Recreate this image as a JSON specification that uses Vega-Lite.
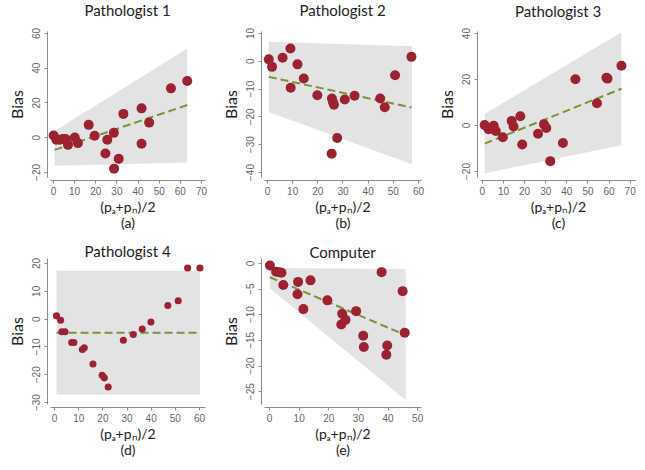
{
  "$schema": "https://vega.github.io/schema/vega-lite/v6.json",
  "padding": {"left": 9, "top": 4, "right": 0, "bottom": 0},
  "background": "white",
  "columns": 3,
  "bounds": "flush",
  "spacing": {"row": 81, "column": 59},
  "datasets": {
    "pts": [
      {"p": 1, "x": 0.3, "y": 1.0}, {"p": 1, "x": 1.6, "y": -1.5}, {"p": 1, "x": 3.2, "y": -1.5}, {"p": 1, "x": 4.7, "y": -1.0}, {"p": 1, "x": 6.0, "y": -1.0}, {"p": 1, "x": 7.1, "y": -4.4}, {"p": 1, "x": 10.3, "y": -0.2}, {"p": 1, "x": 11.8, "y": -3.4}, {"p": 1, "x": 16.9, "y": 7.1}, {"p": 1, "x": 19.7, "y": 0.8}, {"p": 1, "x": 25.7, "y": -1.5}, {"p": 1, "x": 24.8, "y": -9.4}, {"p": 1, "x": 28.8, "y": 2.5}, {"p": 1, "x": 28.9, "y": -18.1}, {"p": 1, "x": 31.1, "y": -12.4}, {"p": 1, "x": 33.3, "y": 13.4}, {"p": 1, "x": 41.9, "y": 16.6}, {"p": 1, "x": 41.9, "y": -3.8}, {"p": 1, "x": 45.5, "y": 8.4}, {"p": 1, "x": 55.8, "y": 28.1}, {"p": 1, "x": 63.5, "y": 32.3},
      {"p": 2, "x": 0.7, "y": 0.5}, {"p": 2, "x": 2.0, "y": -2.2}, {"p": 2, "x": 6.2, "y": 1.1}, {"p": 2, "x": 9.3, "y": 4.4}, {"p": 2, "x": 9.4, "y": -9.7}, {"p": 2, "x": 12.1, "y": -1.3}, {"p": 2, "x": 14.6, "y": -6.4}, {"p": 2, "x": 20.0, "y": -12.4}, {"p": 2, "x": 25.8, "y": -13.6}, {"p": 2, "x": 26.2, "y": -14.8}, {"p": 2, "x": 26.6, "y": -15.8}, {"p": 2, "x": 25.7, "y": -33.4}, {"p": 2, "x": 27.9, "y": -27.8}, {"p": 2, "x": 30.9, "y": -13.9}, {"p": 2, "x": 34.8, "y": -12.6}, {"p": 2, "x": 45.0, "y": -13.6}, {"p": 2, "x": 46.8, "y": -16.7}, {"p": 2, "x": 50.9, "y": -5.2}, {"p": 2, "x": 57.4, "y": 1.4},
      {"p": 3, "x": 1.3, "y": 0.0}, {"p": 3, "x": 3.1, "y": -1.8}, {"p": 3, "x": 4.4, "y": -1.5}, {"p": 3, "x": 5.6, "y": -0.3}, {"p": 3, "x": 6.6, "y": -2.6}, {"p": 3, "x": 9.9, "y": -5.3}, {"p": 3, "x": 14.1, "y": 1.8}, {"p": 3, "x": 15.0, "y": -0.6}, {"p": 3, "x": 18.2, "y": 3.8}, {"p": 3, "x": 19.1, "y": -8.5}, {"p": 3, "x": 26.6, "y": -3.8}, {"p": 3, "x": 29.4, "y": 0.3}, {"p": 3, "x": 30.5, "y": -1.3}, {"p": 3, "x": 32.4, "y": -15.7}, {"p": 3, "x": 38.4, "y": -7.8}, {"p": 3, "x": 44.3, "y": 19.9}, {"p": 3, "x": 54.5, "y": 9.5}, {"p": 3, "x": 59.0, "y": 20.6}, {"p": 3, "x": 59.5, "y": 20.2}, {"p": 3, "x": 66.1, "y": 25.8},
      {"p": 4, "x": 1.0, "y": 1.0}, {"p": 4, "x": 2.7, "y": -0.6}, {"p": 4, "x": 3.2, "y": -4.7}, {"p": 4, "x": 4.5, "y": -4.7}, {"p": 4, "x": 7.3, "y": -8.6}, {"p": 4, "x": 8.2, "y": -8.6}, {"p": 4, "x": 11.7, "y": -11.1}, {"p": 4, "x": 12.5, "y": -10.5}, {"p": 4, "x": 16.1, "y": -16.3}, {"p": 4, "x": 19.9, "y": -20.4}, {"p": 4, "x": 20.8, "y": -21.3}, {"p": 4, "x": 22.4, "y": -24.6}, {"p": 4, "x": 28.7, "y": -7.8}, {"p": 4, "x": 32.8, "y": -5.7}, {"p": 4, "x": 36.5, "y": -3.7}, {"p": 4, "x": 40.1, "y": -1.2}, {"p": 4, "x": 47.1, "y": 4.7}, {"p": 4, "x": 51.4, "y": 6.4}, {"p": 4, "x": 55.3, "y": 18.2}, {"p": 4, "x": 60.4, "y": 18.2},
      {"p": 5, "x": 0.3, "y": -0.5}, {"p": 5, "x": 2.4, "y": -1.7}, {"p": 5, "x": 3.4, "y": -1.8}, {"p": 5, "x": 4.2, "y": -1.9}, {"p": 5, "x": 4.8, "y": -4.3}, {"p": 5, "x": 9.8, "y": -3.7}, {"p": 5, "x": 9.6, "y": -6.1}, {"p": 5, "x": 11.6, "y": -9.0}, {"p": 5, "x": 14.0, "y": -3.4}, {"p": 5, "x": 19.7, "y": -7.3}, {"p": 5, "x": 24.4, "y": -12.0}, {"p": 5, "x": 24.7, "y": -9.9}, {"p": 5, "x": 25.8, "y": -11.1}, {"p": 5, "x": 29.4, "y": -9.4}, {"p": 5, "x": 31.8, "y": -14.2}, {"p": 5, "x": 32.0, "y": -16.4}, {"p": 5, "x": 38.0, "y": -1.8}, {"p": 5, "x": 39.6, "y": -17.9}, {"p": 5, "x": 39.9, "y": -16.1}, {"p": 5, "x": 45.1, "y": -5.5}, {"p": 5, "x": 45.8, "y": -13.6}
    ],
    "band": [
      {"p": 1, "x": 0.8, "lo": -16.4, "hi": 3.6}, {"p": 1, "x": 63.5, "lo": -14.5, "hi": 51.0},
      {"p": 2, "x": 0.7, "lo": -18.4, "hi": 6.8}, {"p": 2, "x": 57.6, "lo": -37.2, "hi": 5.2},
      {"p": 3, "x": 1.3, "lo": -21.0, "hi": 4.8}, {"p": 3, "x": 66.1, "lo": -8.8, "hi": 40.4},
      {"p": 4, "x": 1.0, "lo": -27.3, "hi": 17.2}, {"p": 4, "x": 60.4, "lo": -27.3, "hi": 17.2},
      {"p": 5, "x": 0.3, "lo": -5.0, "hi": -1.0}, {"p": 5, "x": 46.1, "lo": -26.7, "hi": -1.2}
    ],
    "fit": [
      {"p": 1, "x": 0.8, "y": -7.3}, {"p": 1, "x": 63.5, "y": 18.5},
      {"p": 2, "x": 0.7, "y": -5.8}, {"p": 2, "x": 57.4, "y": -16.8},
      {"p": 3, "x": 1.3, "y": -8.1}, {"p": 3, "x": 66.1, "y": 15.8},
      {"p": 4, "x": 1.0, "y": -5.1}, {"p": 4, "x": 60.4, "y": -5.1},
      {"p": 5, "x": 0.3, "y": -2.8}, {"p": 5, "x": 45.8, "y": -14.0}
    ]
  },
  "concat": [
    {
      "width": 155, "height": 146,
      "title": {"text": "Pathologist 1", "offset": 8},
      "layer": [
        {"data": {"name": "band"}, "transform": [{"filter": "datum.p == 1"}], "mark": {"type": "area", "color": "#e3e3e3"},
          "encoding": {
            "x": {"field": "x", "type": "quantitative", "scale": {"domain": [-1.4, 71.9], "nice": false, "zero": false}, "axis": {"values": [0, 10, 20, 30, 40, 50, 60, 70], "title": ["(pₐ+pₙ)/2", "(a)"]}},
            "y": {"field": "lo", "type": "quantitative", "scale": {"domain": [-22.9, 61.1], "nice": false, "zero": false}, "axis": {"values": [-20, 0, 20, 40, 60], "title": "Bias"}},
            "y2": {"field": "hi"}}},
        {"data": {"name": "fit"}, "transform": [{"filter": "datum.p == 1"}], "mark": {"type": "line", "color": "#77933c", "strokeDash": [8, 4], "strokeWidth": 2},
          "encoding": {
            "x": {"field": "x", "type": "quantitative", "scale": {"domain": [-1.4, 71.9], "nice": false, "zero": false}, "axis": {"values": [0, 10, 20, 30, 40, 50, 60, 70], "title": ["(pₐ+pₙ)/2", "(a)"]}},
            "y": {"field": "y", "type": "quantitative", "scale": {"domain": [-22.9, 61.1], "nice": false, "zero": false}, "axis": {"values": [-20, 0, 20, 40, 60], "title": "Bias"}}}},
        {"data": {"name": "pts"}, "transform": [{"filter": "datum.p == 1"}], "mark": {"type": "circle", "size": 100, "color": "#9c2131", "opacity": 1},
          "encoding": {
            "x": {"field": "x", "type": "quantitative", "scale": {"domain": [-1.4, 71.9], "nice": false, "zero": false}, "axis": {"values": [0, 10, 20, 30, 40, 50, 60, 70], "title": ["(pₐ+pₙ)/2", "(a)"]}},
            "y": {"field": "y", "type": "quantitative", "scale": {"domain": [-22.9, 61.1], "nice": false, "zero": false}, "axis": {"values": [-20, 0, 20, 40, 60], "title": "Bias"}}}}
      ]
    },
    {
      "width": 157, "height": 146,
      "title": {"text": "Pathologist 2", "offset": 8},
      "layer": [
        {"data": {"name": "band"}, "transform": [{"filter": "datum.p == 2"}], "mark": {"type": "area", "color": "#e3e3e3"},
          "encoding": {
            "x": {"field": "x", "type": "quantitative", "scale": {"domain": [-1.2, 61.2], "nice": false, "zero": false}, "axis": {"values": [0, 10, 20, 30, 40, 50, 60], "title": ["(pₐ+pₙ)/2", "(b)"]}},
            "y": {"field": "lo", "type": "quantitative", "scale": {"domain": [-41.8, 10.7], "nice": false, "zero": false}, "axis": {"values": [-40, -30, -20, -10, 0, 10], "title": "Bias"}},
            "y2": {"field": "hi"}}},
        {"data": {"name": "fit"}, "transform": [{"filter": "datum.p == 2"}], "mark": {"type": "line", "color": "#77933c", "strokeDash": [8, 4], "strokeWidth": 2},
          "encoding": {
            "x": {"field": "x", "type": "quantitative", "scale": {"domain": [-1.2, 61.2], "nice": false, "zero": false}, "axis": {"values": [0, 10, 20, 30, 40, 50, 60], "title": ["(pₐ+pₙ)/2", "(b)"]}},
            "y": {"field": "y", "type": "quantitative", "scale": {"domain": [-41.8, 10.7], "nice": false, "zero": false}, "axis": {"values": [-40, -30, -20, -10, 0, 10], "title": "Bias"}}}},
        {"data": {"name": "pts"}, "transform": [{"filter": "datum.p == 2"}], "mark": {"type": "circle", "size": 100, "color": "#9c2131", "opacity": 1},
          "encoding": {
            "x": {"field": "x", "type": "quantitative", "scale": {"domain": [-1.2, 61.2], "nice": false, "zero": false}, "axis": {"values": [0, 10, 20, 30, 40, 50, 60], "title": ["(pₐ+pₙ)/2", "(b)"]}},
            "y": {"field": "y", "type": "quantitative", "scale": {"domain": [-41.8, 10.7], "nice": false, "zero": false}, "axis": {"values": [-40, -30, -20, -10, 0, 10], "title": "Bias"}}}}
      ]
    },
    {
      "width": 156, "height": 146,
      "title": {"text": "Pathologist 3", "offset": 8},
      "layer": [
        {"data": {"name": "band"}, "transform": [{"filter": "datum.p == 3"}], "mark": {"type": "area", "color": "#e3e3e3"},
          "encoding": {
            "x": {"field": "x", "type": "quantitative", "scale": {"domain": [-0.9, 73.0], "nice": false, "zero": false}, "axis": {"values": [0, 10, 20, 30, 40, 50, 60, 70], "title": ["(pₐ+pₙ)/2", "(c)"]}},
            "y": {"field": "lo", "type": "quantitative", "scale": {"domain": [-22.6, 40.9], "nice": false, "zero": false}, "axis": {"values": [-20, 0, 20, 40], "title": "Bias"}},
            "y2": {"field": "hi"}}},
        {"data": {"name": "fit"}, "transform": [{"filter": "datum.p == 3"}], "mark": {"type": "line", "color": "#77933c", "strokeDash": [8, 4], "strokeWidth": 2},
          "encoding": {
            "x": {"field": "x", "type": "quantitative", "scale": {"domain": [-0.9, 73.0], "nice": false, "zero": false}, "axis": {"values": [0, 10, 20, 30, 40, 50, 60, 70], "title": ["(pₐ+pₙ)/2", "(c)"]}},
            "y": {"field": "y", "type": "quantitative", "scale": {"domain": [-22.6, 40.9], "nice": false, "zero": false}, "axis": {"values": [-20, 0, 20, 40], "title": "Bias"}}}},
        {"data": {"name": "pts"}, "transform": [{"filter": "datum.p == 3"}], "mark": {"type": "circle", "size": 100, "color": "#9c2131", "opacity": 1},
          "encoding": {
            "x": {"field": "x", "type": "quantitative", "scale": {"domain": [-0.9, 73.0], "nice": false, "zero": false}, "axis": {"values": [0, 10, 20, 30, 40, 50, 60, 70], "title": ["(pₐ+pₙ)/2", "(c)"]}},
            "y": {"field": "y", "type": "quantitative", "scale": {"domain": [-22.6, 40.9], "nice": false, "zero": false}, "axis": {"values": [-20, 0, 20, 40], "title": "Bias"}}}}
      ]
    },
    {
      "width": 155, "height": 146,
      "title": {"text": "Pathologist 4", "offset": -3},
      "layer": [
        {"data": {"name": "band"}, "transform": [{"filter": "datum.p == 4"}], "mark": {"type": "area", "color": "#e3e3e3"},
          "encoding": {
            "x": {"field": "x", "type": "quantitative", "scale": {"domain": [-1.7, 62.5], "nice": false, "zero": false}, "axis": {"values": [0, 10, 20, 30, 40, 50, 60], "title": ["(pₐ+pₙ)/2", "(d)"]}},
            "y": {"field": "lo", "type": "quantitative", "scale": {"domain": [-30.7, 21.8], "nice": false, "zero": false}, "axis": {"values": [-30, -20, -10, 0, 10, 20], "title": "Bias"}},
            "y2": {"field": "hi"}}},
        {"data": {"name": "fit"}, "transform": [{"filter": "datum.p == 4"}], "mark": {"type": "line", "color": "#77933c", "strokeDash": [8, 4], "strokeWidth": 2},
          "encoding": {
            "x": {"field": "x", "type": "quantitative", "scale": {"domain": [-1.7, 62.5], "nice": false, "zero": false}, "axis": {"values": [0, 10, 20, 30, 40, 50, 60], "title": ["(pₐ+pₙ)/2", "(d)"]}},
            "y": {"field": "y", "type": "quantitative", "scale": {"domain": [-30.7, 21.8], "nice": false, "zero": false}, "axis": {"values": [-30, -20, -10, 0, 10, 20], "title": "Bias"}}}},
        {"data": {"name": "pts"}, "transform": [{"filter": "datum.p == 4"}], "mark": {"type": "circle", "size": 50, "color": "#9c2131", "opacity": 1},
          "encoding": {
            "x": {"field": "x", "type": "quantitative", "scale": {"domain": [-1.7, 62.5], "nice": false, "zero": false}, "axis": {"values": [0, 10, 20, 30, 40, 50, 60], "title": ["(pₐ+pₙ)/2", "(d)"]}},
            "y": {"field": "y", "type": "quantitative", "scale": {"domain": [-30.7, 21.8], "nice": false, "zero": false}, "axis": {"values": [-30, -20, -10, 0, 10, 20], "title": "Bias"}}}}
      ]
    },
    {
      "width": 157, "height": 146,
      "title": {"text": "Computer", "offset": -3},
      "layer": [
        {"data": {"name": "band"}, "transform": [{"filter": "datum.p == 5"}], "mark": {"type": "area", "color": "#e3e3e3"},
          "encoding": {
            "x": {"field": "x", "type": "quantitative", "scale": {"domain": [-1.7, 51.3], "nice": false, "zero": false}, "axis": {"values": [0, 10, 20, 30, 40, 50], "title": ["(pₐ+pₙ)/2", "(e)"]}},
            "y": {"field": "lo", "type": "quantitative", "scale": {"domain": [-27.5, 0.96], "nice": false, "zero": false}, "axis": {"values": [-25, -20, -15, -10, -5, 0], "title": "Bias"}},
            "y2": {"field": "hi"}}},
        {"data": {"name": "fit"}, "transform": [{"filter": "datum.p == 5"}], "mark": {"type": "line", "color": "#77933c", "strokeDash": [8, 4], "strokeWidth": 2},
          "encoding": {
            "x": {"field": "x", "type": "quantitative", "scale": {"domain": [-1.7, 51.3], "nice": false, "zero": false}, "axis": {"values": [0, 10, 20, 30, 40, 50], "title": ["(pₐ+pₙ)/2", "(e)"]}},
            "y": {"field": "y", "type": "quantitative", "scale": {"domain": [-27.5, 0.96], "nice": false, "zero": false}, "axis": {"values": [-25, -20, -15, -10, -5, 0], "title": "Bias"}}}},
        {"data": {"name": "pts"}, "transform": [{"filter": "datum.p == 5"}], "mark": {"type": "circle", "size": 100, "color": "#9c2131", "opacity": 1},
          "encoding": {
            "x": {"field": "x", "type": "quantitative", "scale": {"domain": [-1.7, 51.3], "nice": false, "zero": false}, "axis": {"values": [0, 10, 20, 30, 40, 50], "title": ["(pₐ+pₙ)/2", "(e)"]}},
            "y": {"field": "y", "type": "quantitative", "scale": {"domain": [-27.5, 0.96], "nice": false, "zero": false}, "axis": {"values": [-25, -20, -15, -10, -5, 0], "title": "Bias"}}}}
      ]
    }
  ],
  "config": {
    "view": {"stroke": null},
    "axis": {"grid": false, "domainColor": "#8c8c8c", "tickColor": "#8c8c8c", "tickSize": 3, "labelFont": "Liberation Sans", "labelFontSize": 10, "labelColor": "#666666", "titleFont": "Lato", "titleFontWeight": "normal", "titleColor": "#222222", "offset": 3},
    "axisY": {"labelAngle": -90, "titleFontSize": 16, "labelPadding": 3, "titlePadding": 6},
    "axisX": {"titleFontSize": 14, "titleLineHeight": 16, "labelPadding": 3, "titlePadding": 4},
    "title": {"font": "Lato", "fontSize": 15, "fontWeight": "normal", "color": "#222222", "frame": "group", "anchor": "middle"}
  }
}
